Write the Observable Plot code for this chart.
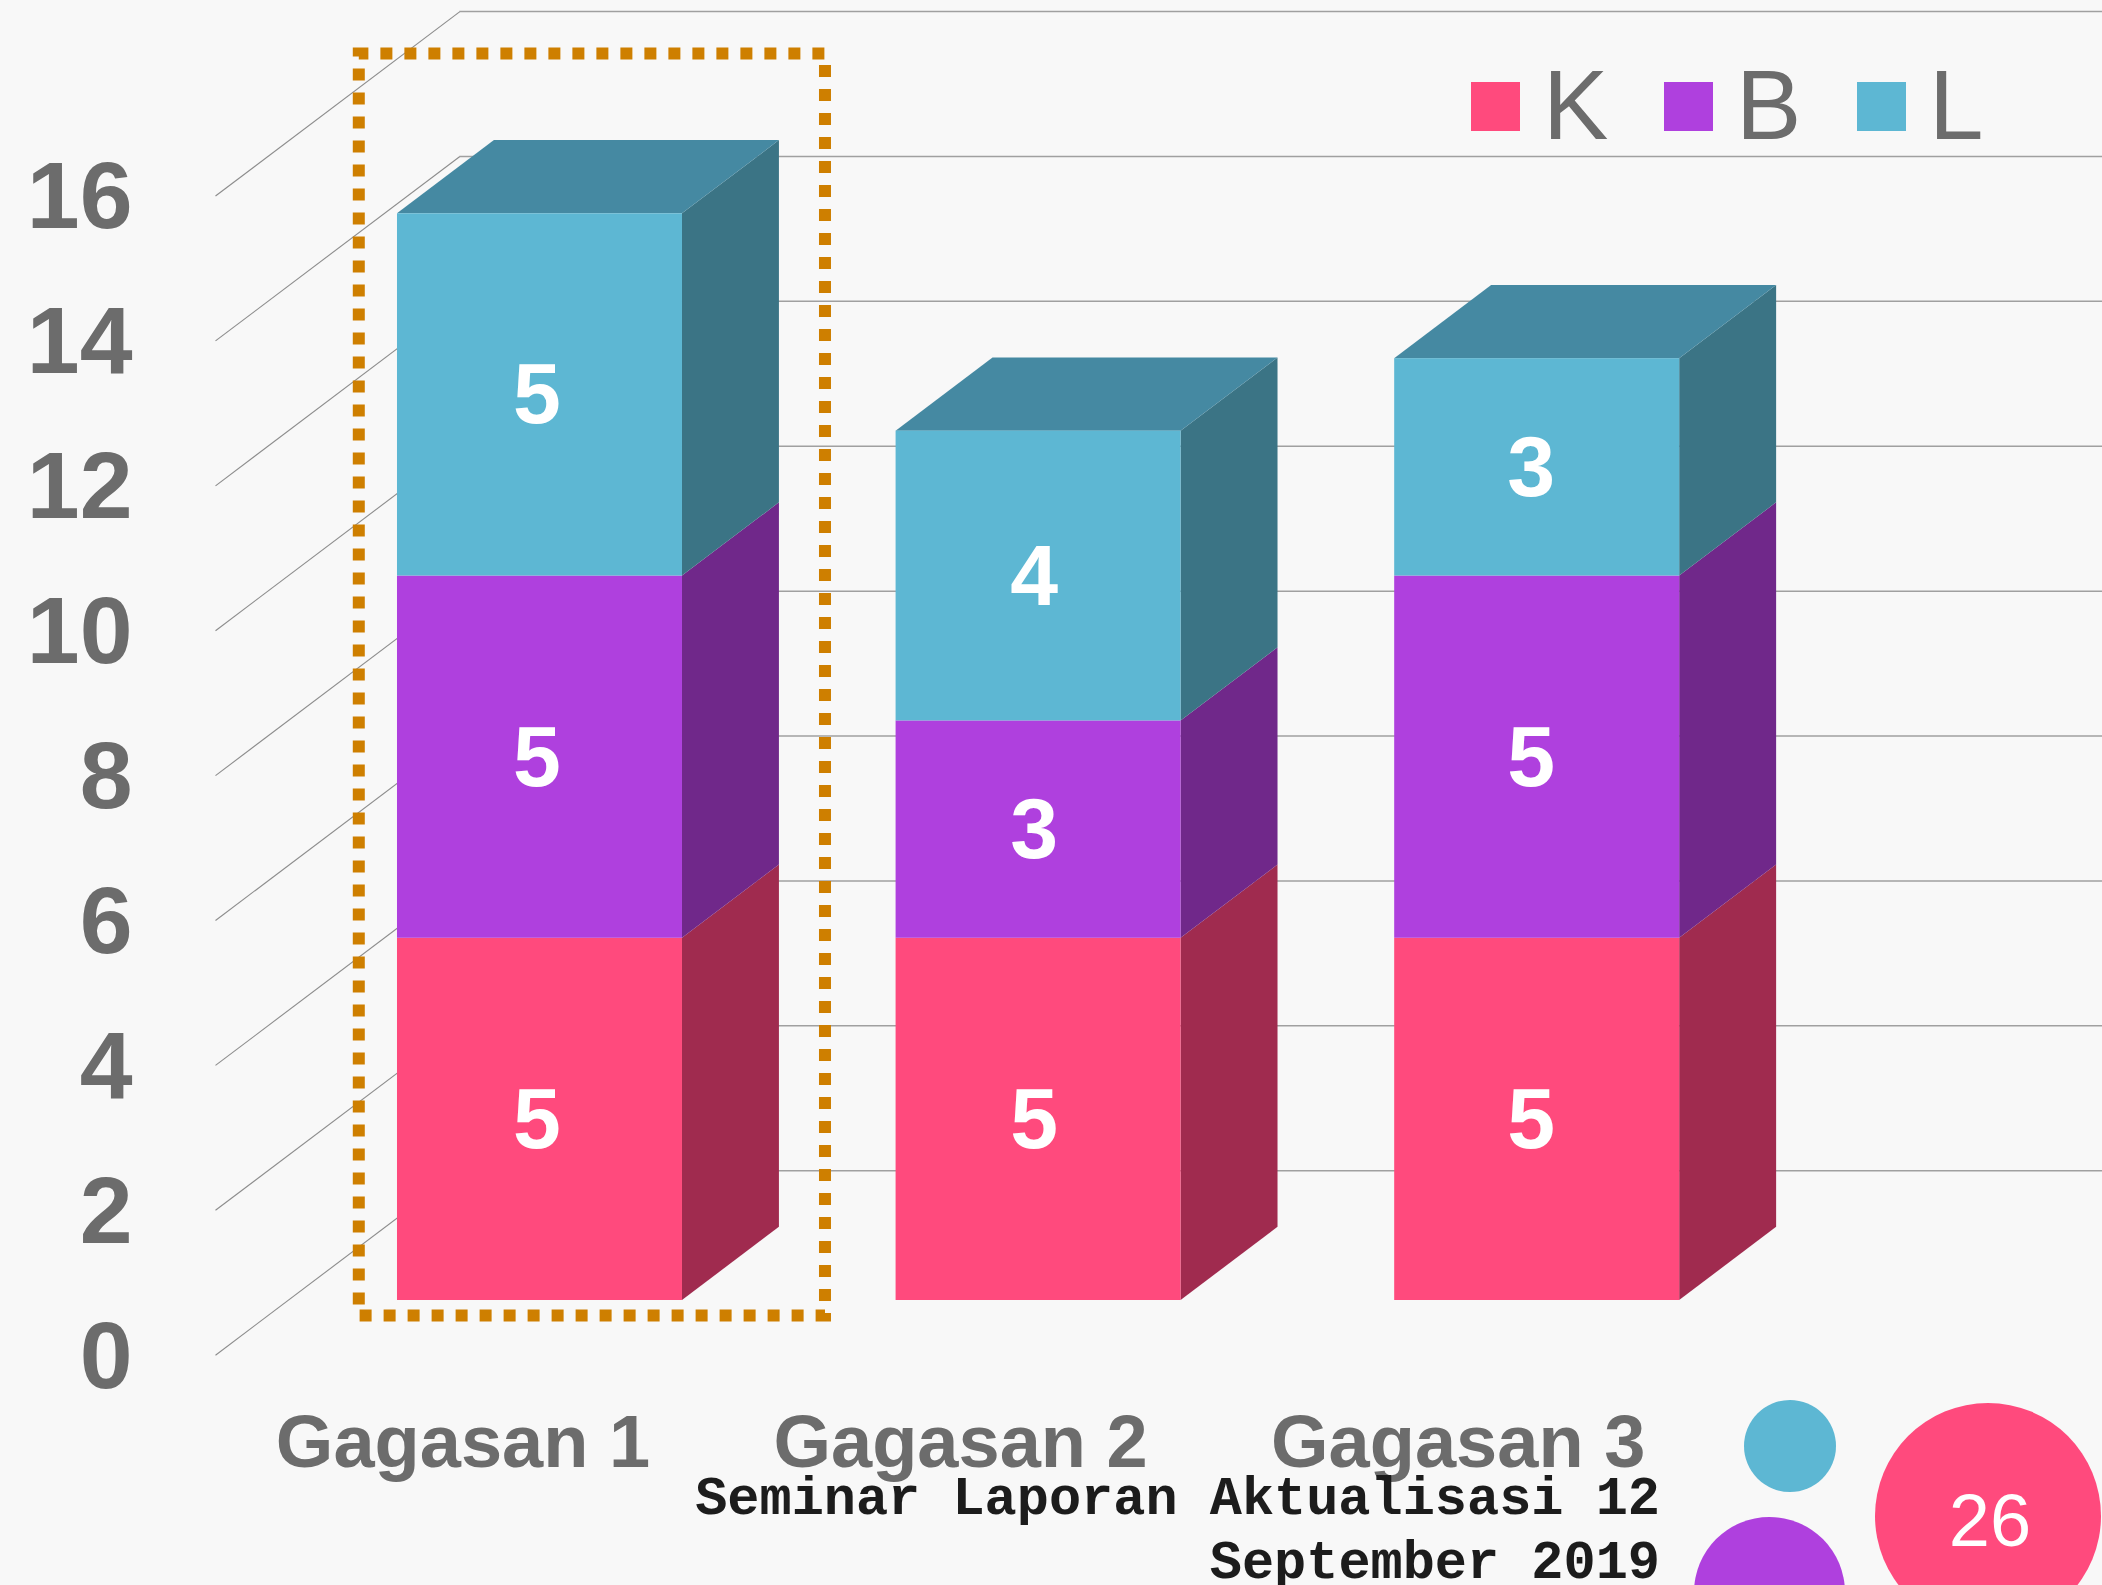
<!DOCTYPE html>
<html>
<head>
<meta charset="utf-8">
<script src="https://cdn.jsdelivr.net/npm/d3@7"></script>
<script src="https://cdn.jsdelivr.net/npm/@observablehq/plot@0.6"></script>
<style>
html,body{margin:0;padding:0;background:#f8f8f8;width:2102px;height:1585px;overflow:hidden}
#wrap{position:relative;width:2102px;height:1585px;overflow:hidden;font-family:"Liberation Sans",Arial,sans-serif}
#wrap svg{position:absolute;left:0;top:0;display:block}
.abs{position:absolute}
.legendText{font-size:98px;line-height:1;color:#6c6c6c}
.foot{font-family:"Liberation Mono",monospace;font-weight:bold;font-size:53.6px;line-height:1;color:#1c1c1c;white-space:pre;text-align:right;right:442px}
.circle{border-radius:50%}
</style>
</head>
<body>
<div id="wrap"></div>
<script>
const categories = ["Gagasan 1", "Gagasan 2", "Gagasan 3"];
const seriesNames = ["K", "B", "L"];
const K = [5, 5, 5];
const B = [5, 3, 5];
const L = [5, 4, 3];
const yTicks = [0, 2, 4, 6, 8, 10, 12, 14, 16];
const seriesColors = ["#ff4a7d", "#af40de", "#5db7d3"];
const sideColors = ["#a02b4f", "#70288a", "#3b7485"];
const topColor = "#4589a2";
const footerLines = ["Seminar Laporan Aktualisasi 12", "September 2019"];
const pageNumber = "26";

// Oblique projection: going "depth" units back moves up by depth (y units)
// and right by depth*shear (x units).
const shear = 0.1925;
const floorDepth = 2.546;
const barNear = 0.755;
const barDepth = 1.01;
const barLeft = -0.1314, barRight = 0.4402;
const axisX = -0.4964;
const labelDrift = 0.003;

const table = seriesNames.map((name, s) => [K, B, L][s]);
const rows = [];
categories.forEach((c, i) => {
  let base = 0;
  seriesNames.forEach((name, s) => {
    const v = table[s][i];
    rows.push({i, name, s, v, y0: base, y1: base + v, xl: i + barLeft, xr: i + barRight});
    base += v;
  });
});
const tops = categories.map((c, i) => rows.filter(r => r.i === i).pop());

function sidePts(r) {
  return [
    {id: r.i + r.name, x: r.xr, y1: r.y0 + barNear, y2: r.y1 + barNear},
    {id: r.i + r.name, x: r.xr + barDepth * shear, y1: r.y0 + barNear + barDepth, y2: r.y1 + barNear + barDepth}
  ];
}
function topPts(r) {
  return [
    {id: r.i, x1: r.xl, x2: r.xr, y: r.y1 + barNear},
    {id: r.i, x1: r.xl + barDepth * shear, x2: r.xr + barDepth * shear, y: r.y1 + barNear + barDepth}
  ];
}

const xMax = 3.2882;
const sideMarks = seriesNames.map((name, s) =>
  Plot.area(rows.filter(r => r.s === s).flatMap(sidePts), {
    x1: "x", x2: "x", y1: "y1", y2: "y2", z: "id", fill: sideColors[s]
  }));

const chart = Plot.plot({
  width: 2102, height: 1585,
  marginTop: 0, marginRight: 0, marginBottom: 0, marginLeft: 0,
  x: {domain: [-0.9276, xMax], range: [0, 2102], axis: null},
  y: {domain: [-3.179, 18.699], range: [1585, 0], axis: null},
  color: {domain: seriesNames, range: seriesColors},
  style: {background: "transparent", overflow: "visible"},
  marks: [
    Plot.link(yTicks, {
      x1: axisX, y1: d => d,
      x2: axisX + floorDepth * shear, y2: d => d + floorDepth,
      stroke: "#8c8c8c", strokeWidth: 1.1
    }),
    Plot.ruleY(yTicks, {
      y: d => d + floorDepth, x1: axisX + floorDepth * shear, x2: xMax,
      stroke: "#a0a0a0", strokeWidth: 1.5
    }),
    ...sideMarks,
    Plot.area(tops.flatMap(topPts), {
      x1: "x1", x2: "x2", y1: "y", y2: "y", z: "id", fill: topColor
    }),
    Plot.rect(rows, {
      x1: "xl", x2: "xr",
      y1: d => d.y0 + barNear, y2: d => d.y1 + barNear,
      fill: "name"
    }),
    Plot.text(rows, {
      x: d => (d.xl + d.xr) / 2 - d.i * labelDrift,
      y: d => (d.y0 + d.y1) / 2 + barNear,
      text: d => String(d.v),
      dx: -3, dy: 1, lineAnchor: "middle", textAnchor: "middle",
      fill: "white", fontWeight: "bold", fontSize: 86,
      fontFamily: "Liberation Sans"
    }),
    Plot.text(yTicks, {
      x: axisX, y: d => d, text: d => String(d),
      dx: -83, dy: 2, textAnchor: "end", lineAnchor: "middle",
      fill: "#6c6c6c", fontWeight: "bold", fontSize: 95,
      fontFamily: "Liberation Sans"
    }),
    Plot.text(categories, {
      x: (d, i) => i - i * 0.002, y: 0, text: d => d,
      dy: 88.6, textAnchor: "middle", lineAnchor: "middle",
      fill: "#6c6c6c", fontWeight: "bold", fontSize: 74,
      fontFamily: "Liberation Sans"
    }),
    // dotted highlight round the first category
    Plot.rect([0], {
      x1: -0.208, x2: 0.727, y1: 0.54, y2: 17.96,
      fill: "none", stroke: "#ce7f00", strokeWidth: 12,
      strokeDasharray: "12 12", strokeDashoffset: 2.4
    })
  ]
});

const wrap = document.getElementById("wrap");
wrap.appendChild(chart);

function add(cls, css, text) {
  const el = document.createElement("div");
  el.className = "abs " + cls;
  el.style.cssText = css;
  if (text) el.textContent = text;
  wrap.appendChild(el);
  return el;
}
// legend
seriesNames.forEach((name, s) => {
  add("", `left:${1471 + s * 193}px;top:82px;width:49px;height:49px;background:${seriesColors[s]}`);
  add("legendText", `left:${1543 + s * 193}px;top:55.5px`, name);
});
// decorative slide circles and slide number
add("circle", `left:1744px;top:1400px;width:92px;height:92px;background:${seriesColors[2]}`);
add("circle", `left:1693.5px;top:1516.5px;width:151px;height:151px;background:${seriesColors[1]}`);
add("circle", `left:1875px;top:1403px;width:226px;height:226px;background:${seriesColors[0]}`);
add("", `left:1875px;width:230px;text-align:center;top:1484px;font-size:74px;line-height:1;color:#fff`, pageNumber);
// footer
footerLines.forEach((t, i) => {
  add("foot", `top:${1473 + i * 64}px`, t);
});
</script>
</body>
</html>
